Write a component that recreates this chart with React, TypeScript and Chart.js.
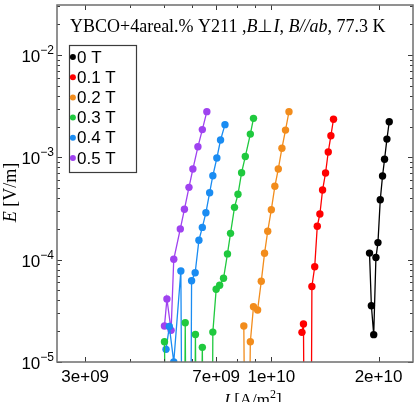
import { useEffect, useRef } from "react";
import { Chart, registerables } from "chart.js";

Chart.register(...registerables);

// Field values shown in the legend and their colours
const fieldLabels = ["0 T", "0.1 T", "0.2 T", "0.3 T", "0.4 T", "0.5 T"];
const fieldColors = ["#000000", "#ff0000", "#f28c1c", "#1fc93e", "#1a8cf2", "#9f42f0"];

// Current density J [A/m^2] and electric field E [V/m] for each applied field.
// Very small E values are noise-level readings that fall below the plotted range.
const J_0T = [1.887e10, 1.91e10, 1.939e10, 1.967e10, 1.993e10, 2.023e10, 2.053e10, 2.08e10, 2.112e10, 2.144e10];
const E_0T = [1.16e-4, 3.55e-5, 1.85e-5, 1.05e-4, 1.47e-4, 3.86e-4, 6.58e-4, 9.6e-4, 1.51e-3, 2.23e-3];

const J_01T = [1.219e10, 1.231e10, 1.248e10, 1.286e10, 1.3e10, 1.324e10, 1.346e10, 1.369e10, 1.393e10, 1.42e10, 1.445e10, 1.47e10, 1.495e10];
const E_01T = [1.95e-5, 2.35e-5, 1e-8, 1e-8, 5.47e-5, 8.54e-5, 2.12e-4, 2.8e-4, 4.8e-4, 7.04e-4, 1.13e-3, 1.63e-3, 2.36e-3];

const J_02T = [8.37e9, 8.53e9, 8.73e9, 8.91e9, 9.15e9, 9.37e9, 9.57e9, 9.77e9, 1.0e10, 1.023e10, 1.046e10, 1.071e10, 1.096e10, 1.121e10];
const E_02T = [2.25e-5, 1e-8, 1.58e-5, 3.47e-5, 3.22e-5, 6.15e-5, 1.155e-4, 1.9e-4, 3.08e-4, 5.22e-4, 7.7e-4, 1.23e-3, 1.85e-3, 2.8e-3];

const J_03T = [5.01e9, 5.13e9, 5.66e9, 5.73e9, 5.82e9, 6.03e9, 6.12e9, 6.23e9, 6.4e9, 6.52e9, 6.78e9, 6.85e9, 7.0e9, 7.16e9, 7.34e9, 7.53e9, 7.68e9, 7.88e9, 8.06e9, 8.25e9, 8.45e9, 8.73e9, 8.91e9];
const E_03T = [1.58e-5, 1e-8, 1e-8, 2.42e-5, 1e-8, 1e-8, 1.86e-5, 1e-8, 1.39e-5, 1e-8, 1e-8, 1.96e-5, 5.14e-5, 5.62e-5, 6.58e-5, 1.14e-4, 1.81e-4, 3.25e-4, 4.36e-4, 7.09e-4, 1.02e-3, 1.69e-3, 2.41e-3];

const J_04T = [5.06e9, 5.17e9, 5.32e9, 5.57e9, 5.66e9, 5.9e9, 5.97e9, 6.11e9, 6.26e9, 6.4e9, 6.55e9, 6.71e9, 6.85e9, 7.03e9, 7.2e9, 7.41e9];
const E_04T = [1.33e-5, 2.22e-5, 1.0e-5, 7.75e-5, 1e-8, 1e-8, 6.23e-5, 7.46e-5, 1.55e-4, 2.07e-4, 2.88e-4, 4.52e-4, 6.62e-4, 9.86e-4, 1.48e-3, 2.09e-3];

const J_05T = [5.01e9, 5.09e9, 5.23e9, 5.32e9, 5.55e9, 5.7e9, 5.87e9, 6.02e9, 6.22e9, 6.4e9, 6.59e9];
const E_05T = [2.25e-5, 4.13e-5, 2.04e-5, 1.01e-4, 2.0e-4, 3.11e-4, 5.1e-4, 7.7e-4, 1.27e-3, 1.87e-3, 2.8e-3];

const seriesJ = [J_0T, J_01T, J_02T, J_03T, J_04T, J_05T];
const seriesE = [E_0T, E_01T, E_02T, E_03T, E_04T, E_05T];

// Axis limits and labelled ticks
const J_MIN = 2.5e9;
const J_MAX = 2.5e10;
const E_MIN = 1e-5;
const E_MAX = 0.0309;
const xTickValues = [3e9, 7e9, 1e10, 2e10];
const xTickLabels = ["3e+09", "7e+09", "1e+10", "2e+10"];
const yTickExponents = [-5, -4, -3, -2];

const SANS = "'Liberation Sans', Arial, sans-serif";
const SERIF = "'Liberation Serif', 'Times New Roman', serif";

type Run = { t: string; f: string; dy?: number };

function drawRuns(ctx: CanvasRenderingContext2D, runs: Run[], x: number, y: number, align: "left" | "center" | "right") {
  ctx.textAlign = "left";
  ctx.textBaseline = "alphabetic";
  let total = 0;
  for (const r of runs) {
    ctx.font = r.f;
    total += ctx.measureText(r.t).width;
  }
  let cx = align === "left" ? x : align === "center" ? x - total / 2 : x - total;
  for (const r of runs) {
    ctx.font = r.f;
    ctx.fillText(r.t, cx, y + (r.dy || 0));
    cx += ctx.measureText(r.t).width;
  }
}

const framePlugin = {
  id: "frameAndLabels",
  afterDraw(chart: any) {
    const ctx: CanvasRenderingContext2D = chart.ctx;
    const { left, right, top, bottom } = chart.chartArea;
    const xs = chart.scales.x;
    const ys = chart.scales.y;
    ctx.save();

    // ticks pointing inward on all four sides
    ctx.strokeStyle = "#3a3a3a";
    ctx.lineWidth = 1;
    const xTick = (v: number, len: number) => {
      const px = Math.round(xs.getPixelForValue(v)) + 0.5;
      ctx.beginPath();
      ctx.moveTo(px, bottom);
      ctx.lineTo(px, bottom - len);
      ctx.moveTo(px, top);
      ctx.lineTo(px, top + len);
      ctx.stroke();
    };
    const yTick = (v: number, len: number) => {
      const py = Math.round(ys.getPixelForValue(v)) + 0.5;
      ctx.beginPath();
      ctx.moveTo(left, py);
      ctx.lineTo(left + len, py);
      ctx.moveTo(right, py);
      ctx.lineTo(right - len, py);
      ctx.stroke();
    };
    for (let d = 9; d <= 10; d++) {
      for (let m = 1; m <= 9; m++) {
        const v = m * Math.pow(10, d);
        if (v < J_MIN || v > J_MAX) continue;
        const major = xTickValues.some((t) => Math.abs(t - v) / v < 1e-6);
        xTick(v, major ? 5 : 3);
      }
    }
    for (let d = -5; d <= -2; d++) {
      for (let m = 1; m <= 9; m++) {
        const v = m * Math.pow(10, d);
        if (v < E_MIN * 0.999 || v > E_MAX) continue;
        yTick(v, m === 1 ? 5 : 3);
      }
    }

    // frame
    ctx.strokeStyle = "#6e6e6e";
    ctx.lineWidth = 1.5;
    ctx.strokeRect(left, top, right - left, bottom - top);

    // tick labels
    ctx.fillStyle = "#000";
    xTickValues.forEach((v, i) => {
      const px = xs.getPixelForValue(v);
      drawRuns(ctx, [{ t: xTickLabels[i], f: `17px ${SANS}` }], px, bottom + 20, "center");
    });
    yTickExponents.forEach((e) => {
      const py = ys.getPixelForValue(Math.pow(10, e));
      drawRuns(
        ctx,
        [
          { t: "10", f: `17px ${SANS}` },
          { t: "\u2212" + String(-e), f: `12px ${SANS}`, dy: -8 },
        ],
        left - 3,
        py + 7,
        "right"
      );
    });

    // axis titles
    drawRuns(
      ctx,
      [
        { t: "J", f: `italic 17px ${SERIF}` },
        { t: " [A/m", f: `17px ${SERIF}` },
        { t: "2", f: `12px ${SERIF}`, dy: -7 },
        { t: "]", f: `17px ${SERIF}` },
      ],
      (left + right) / 2 + 17,
      405,
      "center"
    );
    ctx.save();
    ctx.translate(16, (top + bottom) / 2 + 9);
    ctx.rotate(-Math.PI / 2);
    drawRuns(
      ctx,
      [
        { t: "E", f: `italic 18px ${SERIF}` },
        { t: " [V/m]", f: `18px ${SERIF}` },
      ],
      0,
      0,
      "center"
    );
    ctx.restore();

    // annotation inside the axes
    drawRuns(
      ctx,
      [
        { t: "YBCO+4areal.% Y211 ,", f: `18px ${SERIF}` },
        { t: "B", f: `italic 18px ${SERIF}` },
        { t: "\u22A5", f: `18px ${SERIF}` },
        { t: "I", f: `italic 18px ${SERIF}` },
        { t: ", ", f: `18px ${SERIF}` },
        { t: "B//ab", f: `italic 18px ${SERIF}` },
        { t: ", 77.3 K", f: `18px ${SERIF}` },
      ],
      70,
      32,
      "left"
    );

    // legend
    const lx = 69.5;
    const ly = 45.5;
    const lw = 67;
    const lh = 127;
    ctx.fillStyle = "rgba(255,255,255,0.9)";
    ctx.fillRect(lx, ly, lw, lh);
    ctx.strokeStyle = "#3c3c3c";
    ctx.lineWidth = 1.2;
    ctx.strokeRect(lx, ly, lw, lh);
    chart.data.datasets.forEach((ds: any, i: number) => {
      const rowY = 57 + i * 20.2;
      ctx.fillStyle = ds.borderColor;
      ctx.beginPath();
      ctx.arc(lx + 3.4, rowY, 3, 0, Math.PI * 2);
      ctx.fill();
      ctx.fillStyle = "#000";
      ctx.font = `17px ${SANS}`;
      ctx.textAlign = "left";
      ctx.textBaseline = "middle";
      ctx.fillText(ds.label, lx + 7.5, rowY + 1);
    });

    ctx.restore();
  },
};

export default function App() {
  const canvasRef = useRef<HTMLCanvasElement | null>(null);

  useEffect(() => {
    const canvas = canvasRef.current;
    if (!canvas) return;
    const datasets = fieldLabels.map((label, i) => ({
      label,
      data: seriesJ[i].map((j, k) => ({ x: j, y: seriesE[i][k] })),
      borderColor: fieldColors[i],
      backgroundColor: fieldColors[i],
      borderWidth: 1.3,
      pointRadius: 3.7,
      pointBorderWidth: 0,
      pointHoverRadius: 3.7,
      tension: 0,
      clip: { left: 0, top: 0, right: 0, bottom: 0 },
    }));
    const chart = new Chart(canvas, {
      type: "line",
      data: { datasets },
      options: {
        responsive: false,
        animation: false,
        devicePixelRatio: 1,
        layout: { padding: { left: 57, right: 5, top: 5, bottom: 40 } },
        plugins: { legend: { display: false }, tooltip: { enabled: false } },
        scales: {
          x: { type: "logarithmic", min: J_MIN, max: J_MAX, display: false },
          y: { type: "logarithmic", min: E_MIN, max: E_MAX, display: false },
        },
      },
      plugins: [framePlugin],
    } as any);
    return () => chart.destroy();
  }, []);

  return (
    <div style={{ position: "absolute", left: 0, top: 0, width: 418, height: 402, background: "#fff" }}>
      <canvas ref={canvasRef} width={418} height={402} style={{ display: "block" }} />
    </div>
  );
}
